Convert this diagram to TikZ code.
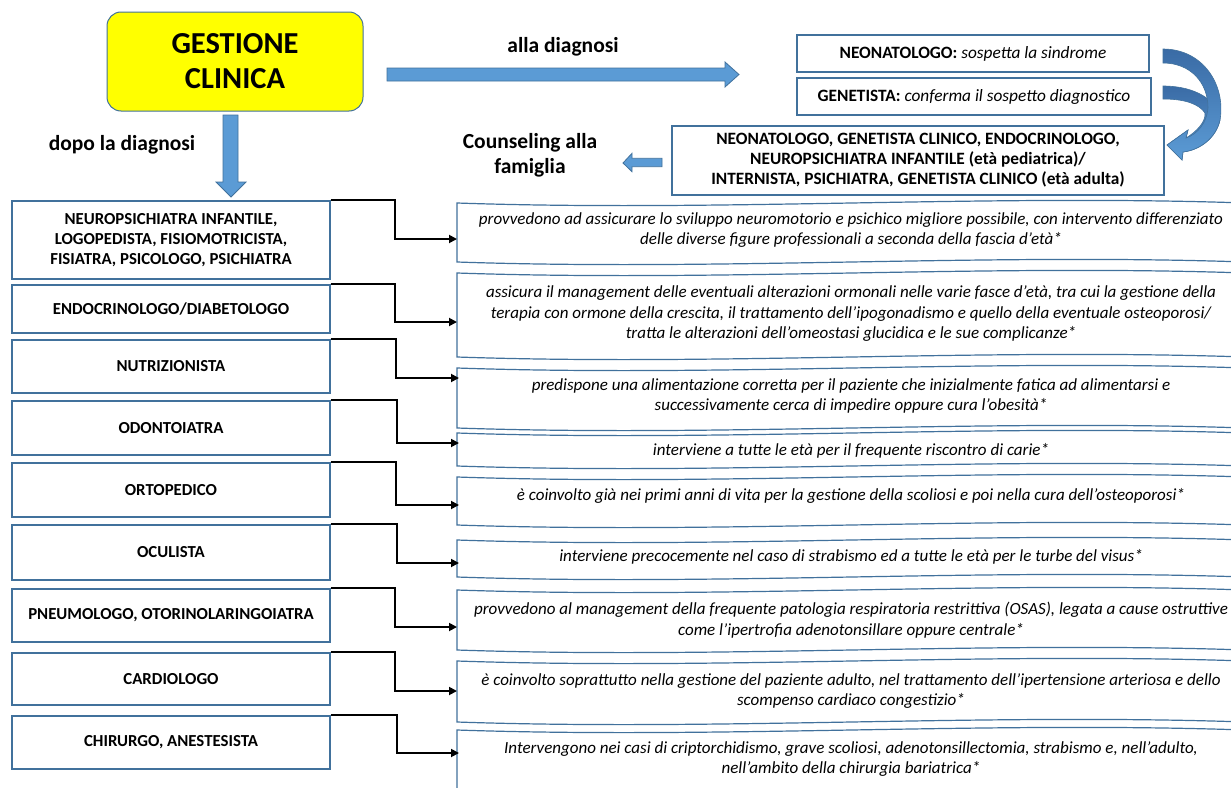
\documentclass[tikz,border=0pt]{standalone}
\usepackage{fontspec}
\setmainfont{Carlito}
\usetikzlibrary{arrows.meta}
\definecolor{bord}{HTML}{41719C}
\definecolor{arrfill}{HTML}{5B9BD5}
\definecolor{arrdark}{HTML}{3A6BA5}
\definecolor{yel}{HTML}{FFFF00}
\newcommand\mywave[2]{\draw[wavestyle] (457,#1) .. controls (720,#1+9) and (983,#1-9) .. (1245,#1) -- (1245,#2) .. controls (983,#2-9) and (720,#2+9) .. (457,#2) -- cycle;}
\begin{document}
\begin{tikzpicture}[x=1pt,y=-1pt,
  leftbox/.style={draw=bord, line width=1.3pt, minimum width=318pt, inner sep=0pt, align=center, font=\fontsize{16.8}{20}\selectfont\bfseries},
  topbox/.style={draw=bord, line width=1.3pt, inner sep=0pt, align=center, fill=white},
  desc/.style={align=center, inner sep=0pt, font=\fontsize{17}{20.5}\selectfont\itshape},
  wavestyle/.style={draw=bord, line width=1.2pt, fill=white},
  blockarrow/.style={fill=arrfill, draw=bord, line width=0.8pt},
  lbl/.style={align=center, inner sep=0pt, font=\fontsize{21.5}{25}\selectfont\bfseries},
  conn/.style={draw=black, line width=1.8pt, -{Triangle[length=8pt,width=8pt]}}]
\useasboundingbox (0,0) rectangle (1231,787);
\fill[white] (0,0) rectangle (1231,787);

% main box
\node[draw=bord, line width=1pt, fill=yel, rounded corners=14pt, minimum width=256pt, minimum height=99pt, align=center, inner sep=0pt,
  font=\fontsize{30.5}{35}\selectfont\bfseries] (gc) at (235,61.5) {GESTIONE\\CLINICA};

% block arrows
\draw[blockarrow] (387,68) -- (725,68) -- (725,62) -- (739,74.5) -- (725,87) -- (725,81) -- (387,81) -- cycle;
\draw[blockarrow] (223,115) -- (238,115) -- (238,182) -- (246,182) -- (231,197) -- (216,182) -- (223,182) -- cycle;
\draw[blockarrow] (662,158.3) -- (632,158.3) -- (632,153.3) -- (623,163) -- (632,171.7) -- (632,166.7) -- (662,166.7) -- cycle;

\node[lbl] (alla) at (563,47) {alla diagnosi};
\node[lbl] (dopo) at (122,145) {dopo la diagnosi};
\node[lbl] (couns) at (530,155.5) {Counseling alla\\famiglia};

% top right boxes
\node[topbox, minimum width=352pt, minimum height=37pt, font=\fontsize{17.3}{20}\selectfont] (n1) at (973,53.5) {\textbf{NEONATOLOGO:} \textit{sospetta la sindrome}};
\node[topbox, minimum width=354pt, minimum height=37pt, font=\fontsize{17.3}{20}\selectfont] (n2) at (974,96.5) {\textbf{GENETISTA:} \textit{conferma il sospetto diagnostico}};
\node[topbox, minimum width=492pt, minimum height=69pt, font=\fontsize{17.3}{20}\selectfont\bfseries] (n3) at (918,160.5) {NEONATOLOGO, GENETISTA CLINICO, ENDOCRINOLOGO,\\NEUROPSICHIATRA INFANTILE (età pediatrica)/\\INTERNISTA, PSICHIATRA, GENETISTA CLINICO (età adulta)};

% curved arrows
\path[top color=arrdark, bottom color=arrfill, draw=bord, line width=0.6pt]
  (1163,86) .. controls (1195,86) and (1218,100) .. (1220,120)
  .. controls (1216,138) and (1200,150) .. (1183,152) -- (1182,160) -- (1167,145) -- (1188,130) -- (1186,138)
  .. controls (1196,132) and (1206,122) .. (1205,113) .. controls (1199,104) and (1185,99) .. (1163,99) -- cycle;
\path[top color=arrdark, bottom color=arrfill, draw=bord, line width=0.6pt]
  (1163,49) .. controls (1203,49) and (1226,85) .. (1220,120)
  .. controls (1216,138) and (1200,150) .. (1183,152) -- (1182,160) -- (1167,145) -- (1188,130) -- (1186,138)
  .. controls (1198,134) and (1207,122) .. (1208,108) .. controls (1208,82) and (1190,63) .. (1163,63) -- cycle;

% wave boxes
\mywave{203}{262}
\mywave{273}{357}
\mywave{368}{428}
\mywave{433}{466}
\mywave{477}{525}
\mywave{540}{577}
\mywave{590}{650}
\mywave{661}{722}
\mywave{730}{800}

\node[desc] (r1) at (851,230) {provvedono ad assicurare lo sviluppo neuromotorio e psichico migliore possibile, con intervento differenziato\\delle diverse figure professionali a seconda della fascia d’età*};
\node[desc] (r2) at (851,314) {assicura il management delle eventuali alterazioni ormonali nelle varie fasce d’età, tra cui la gestione della\\terapia con ormone della crescita, il trattamento dell’ipogonadismo e quello della eventuale osteoporosi/\\tratta le alterazioni dell’omeostasi glucidica e le sue complicanze*};
\node[desc] (r3) at (851,396) {predispone una alimentazione corretta per il paziente che inizialmente fatica ad alimentarsi e\\successivamente cerca di impedire oppure cura l’obesità*};
\node[desc] (r4) at (851,451) {interviene a tutte le età per il frequente riscontro di carie*};
\node[desc] (r5) at (851,496) {è coinvolto già nei primi anni di vita per la gestione della scoliosi e poi nella cura dell’osteoporosi*};
\node[desc] (r6) at (851,557) {interviene precocemente nel caso di strabismo ed a tutte le età per le turbe del visus*};
\node[desc] (r7) at (851,620) {provvedono al management della frequente patologia respiratoria restrittiva (OSAS), legata a cause ostruttive\\come l’ipertrofia adenotonsillare oppure centrale*};
\node[desc] (r8) at (851,691) {è coinvolto soprattutto nella gestione del paziente adulto, nel trattamento dell’ipertensione arteriosa e dello\\scompenso cardiaco congestizio*};
\node[desc] (r9) at (851,759) {Intervengono nei casi di criptorchidismo, grave scoliosi, adenotonsillectomia, strabismo e, nell’adulto,\\nell’ambito della chirurgia bariatrica*};

% left boxes
\node[leftbox, minimum height=78pt] (l1) at (171,240) {NEUROPSICHIATRA INFANTILE,\\LOGOPEDISTA, FISIOMOTRICISTA,\\FISIATRA, PSICOLOGO, PSICHIATRA};
\node[leftbox, minimum height=48pt] (l2) at (171,309) {ENDOCRINOLOGO/DIABETOLOGO};
\node[leftbox, minimum height=53pt] (l3) at (171,366.5) {NUTRIZIONISTA};
\node[leftbox, minimum height=54pt] (l4) at (171,428) {ODONTOIATRA};
\node[leftbox, minimum height=54pt] (l5) at (171,490) {ORTOPEDICO};
\node[leftbox, minimum height=55pt] (l6) at (171,552.5) {OCULISTA};
\node[leftbox, minimum height=53pt] (l7) at (171,615.5) {PNEUMOLOGO, OTORINOLARINGOIATRA};
\node[leftbox, minimum height=52pt] (l8) at (171,679) {CARDIOLOGO};
\node[leftbox, minimum height=53pt] (l9) at (171,742.5) {CHIRURGO, ANESTESISTA};

% connector end points on the wave boxes
\coordinate (e1) at (457,239);
\coordinate (e2) at (457,322);
\coordinate (e3) at (459,378);
\coordinate (e4) at (459,443);
\coordinate (e5) at (459,505);
\coordinate (e6) at (459,563);
\coordinate (e7) at (457,627);
\coordinate (e8) at (457,691);
\coordinate (e9) at (459,753);

\draw[conn] (l1.north east) -- ++(64,0) |- (e1);
\draw[conn] (l2.north east) -- ++(64,0) |- (e2);
\draw[conn] (l3.north east) -- ++(65,0) |- (e3);
\draw[conn] (l4.north east) -- ++(66,0) |- (e4);
\draw[conn] (l5.north east) -- ++(65,0) |- (e5);
\draw[conn] (l6.north east) -- ++(66,0) |- (e6);
\draw[conn] (l7.north east) -- ++(64,0) |- (e7);
\draw[conn] (l8.north east) -- ++(64,0) |- (e8);
\draw[conn] (l9.north east) -- ++(66,0) |- (e9);
\end{tikzpicture}
\end{document}
